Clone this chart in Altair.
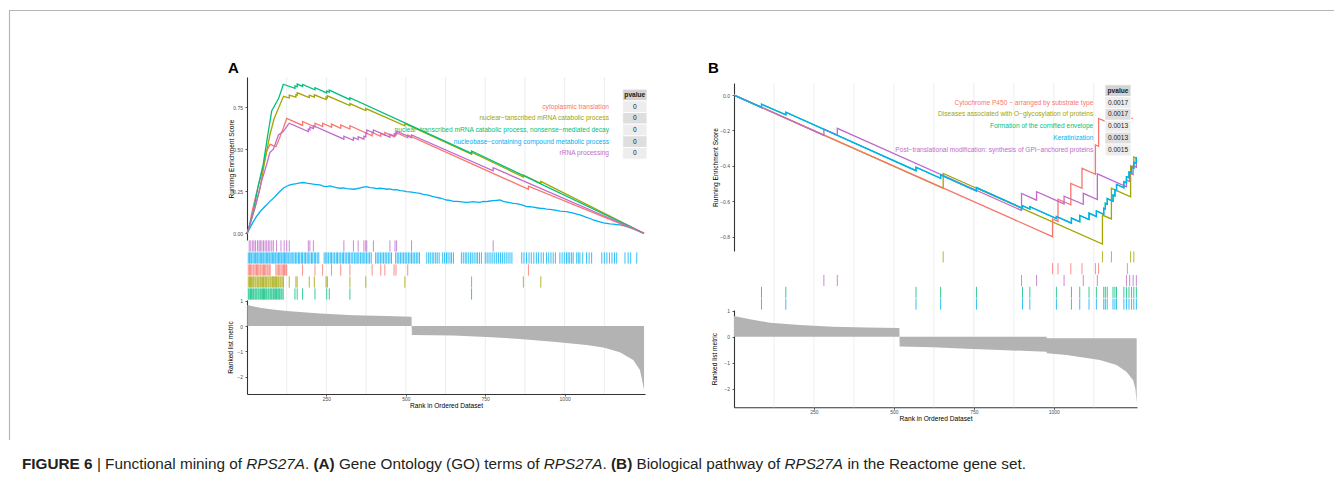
import altair as alt
import pandas as pd

FONT = "Liberation Sans"
W, H = 1326, 470

COLORS = ["#F8766D", "#A3A500", "#00BF7D", "#00B0F6", "#C06BCB"]

# ---------------- Panel A (GO terms) ----------------
A_SETS = ["cytoplasmic translation",
          "nuclear−tanscribed mRNA catabolic process",
          "nuclear−transcribed mRNA catabolic process, nonsense−mediated decay",
          "nucleobase−containing compound metabolic process",
          "rRNA processing"]
A_PVALUES = ["0", "0", "0", "0", "0"]

A_ES_CYTO = [(0, 0), (4, 0.01), (15, 0.12), (30, 0.24), (41, 0.32), (55, 0.43), (62, 0.49), (73, 0.53),
             (82, 0.522), (91, 0.515), (99, 0.55), (107, 0.59), (115, 0.63), (125, 0.684), (175, 0.642),
             (175, 0.665), (214, 0.632), (214, 0.655), (238, 0.635), (238, 0.655), (266, 0.631), (266, 0.65),
             (295, 0.625), (295, 0.645), (324, 0.62), (324, 0.64), (394, 0.58), (394, 0.60), (421, 0.577),
             (421, 0.595), (434, 0.584), (434, 0.60), (463, 0.575), (463, 0.59), (469, 0.585), (469, 0.60),
             (506, 0.568), (506, 0.585), (886, 0.262), (886, 0.28), (1250, 0)]
A_ES_NUCL = [(0, 0), (4, 0.02), (9, 0.05), (25, 0.15), (41, 0.267), (56, 0.43), (72, 0.585), (85, 0.68),
             (99, 0.744), (115, 0.815), (133, 0.805), (133, 0.822), (154, 0.81), (154, 0.825), (158, 0.822),
             (158, 0.836), (196, 0.808), (196, 0.822), (212, 0.81), (212, 0.824), (249, 0.796), (249, 0.81),
             (253, 0.806), (253, 0.818), (324, 0.76), (324, 0.772), (374, 0.73), (374, 0.742), (497, 0.64),
             (497, 0.652), (707, 0.47), (707, 0.482), (870, 0.335), (870, 0.347), (925, 0.297), (925, 0.309),
             (1250, 0)]
A_ES_NMD = [(0, 0), (4, 0.02), (20, 0.13), (35, 0.28), (51, 0.41), (65, 0.58), (78, 0.73), (99, 0.80),
            (110, 0.86), (114, 0.887), (151, 0.862), (151, 0.877), (158, 0.872), (158, 0.888), (175, 0.874),
            (175, 0.886), (214, 0.854), (214, 0.866), (251, 0.835), (251, 0.847), (259, 0.84), (259, 0.852),
            (324, 0.795), (324, 0.807), (707, 0.475), (707, 0.49), (1250, 0)]
A_ES_NUCLEOBASE = [(0, 0), (4, 0.012), (10, 0.035), (20, 0.069), (30, 0.10), (41, 0.128), (51, 0.149),
                   (62, 0.17), (72, 0.19), (83, 0.208), (93, 0.228), (104, 0.25), (114, 0.268), (125, 0.28),
                   (135, 0.288), (146, 0.292), (156, 0.295), (167, 0.30), (177, 0.302), (188, 0.298),
                   (198, 0.296), (209, 0.292), (219, 0.29), (230, 0.288), (240, 0.281), (251, 0.278),
                   (261, 0.282), (272, 0.276), (282, 0.272), (293, 0.268), (303, 0.27), (314, 0.266),
                   (324, 0.264), (335, 0.262), (345, 0.265), (356, 0.27), (366, 0.275), (377, 0.278),
                   (387, 0.272), (398, 0.27), (408, 0.266), (419, 0.268), (429, 0.266), (440, 0.262),
                   (450, 0.264), (461, 0.258), (471, 0.26), (482, 0.254), (492, 0.252), (502, 0.248),
                   (513, 0.246), (523, 0.244), (534, 0.24), (545, 0.238), (555, 0.232), (566, 0.228),
                   (576, 0.224), (586, 0.218), (597, 0.214), (607, 0.21), (618, 0.204), (628, 0.198),
                   (639, 0.196), (649, 0.19), (660, 0.19), (670, 0.188), (681, 0.186), (691, 0.184),
                   (702, 0.186), (712, 0.188), (723, 0.186), (733, 0.184), (744, 0.19), (754, 0.188),
                   (765, 0.192), (775, 0.194), (786, 0.196), (796, 0.198), (807, 0.19), (817, 0.186),
                   (828, 0.182), (838, 0.178), (849, 0.176), (859, 0.172), (870, 0.166), (880, 0.159),
                   (891, 0.158), (901, 0.156), (912, 0.152), (922, 0.149), (933, 0.148), (943, 0.144),
                   (954, 0.142), (964, 0.139), (975, 0.136), (985, 0.132), (996, 0.13), (1006, 0.129),
                   (1017, 0.124), (1027, 0.12), (1038, 0.114), (1048, 0.109), (1059, 0.102), (1069, 0.095),
                   (1080, 0.088), (1090, 0.079), (1101, 0.074), (1111, 0.068), (1122, 0.062), (1132, 0.059),
                   (1143, 0.056), (1153, 0.054), (1164, 0.052), (1174, 0.05), (1185, 0.045), (1195, 0.04),
                   (1206, 0.034), (1216, 0.028), (1226, 0.02), (1237, 0.01), (1247, 0)]
A_ES_RRNA = [(0, 0), (9, 0.05), (30, 0.19), (46, 0.31), (62, 0.41), (72, 0.48), (83, 0.50), (99, 0.585),
             (114, 0.605), (125, 0.635), (133, 0.655), (193, 0.605), (193, 0.62), (198, 0.616), (198, 0.632),
             (209, 0.623), (209, 0.64), (305, 0.56), (305, 0.578), (335, 0.553), (335, 0.57), (350, 0.558),
             (350, 0.575), (368, 0.56), (368, 0.578), (374, 0.573), (374, 0.595), (377, 0.593), (377, 0.615),
             (398, 0.598), (398, 0.615), (450, 0.572), (450, 0.59), (466, 0.577), (466, 0.594), (471, 0.59),
             (471, 0.607), (518, 0.568), (518, 0.585), (775, 0.372), (775, 0.39), (1250, 0)]

A_HITS_CYTO = [4, 8, 11, 15, 19, 22, 26, 30, 33, 37, 41, 44, 48, 52, 55, 59, 63, 66, 70, 73,
               91, 95, 99, 103, 107, 111, 115, 118, 122, 125,
               175, 214, 238, 266, 295, 324, 394, 421, 434, 463, 469, 506, 886]
A_HITS_NUCL = [4, 8, 11, 14, 18, 21, 25, 28, 32, 35, 38, 42, 45, 49, 52, 56, 59, 62, 66, 69, 73, 76, 80,
               83, 86, 90, 93, 97, 100, 104, 107, 111, 115,
               133, 154, 158, 196, 212, 249, 253, 324, 374, 497, 707, 870, 925]
A_HITS_NMD = [4, 7, 11, 14, 18, 21, 25, 28, 31, 35, 38, 42, 45, 49, 52, 55, 59, 62, 66, 69, 73, 76, 79,
              83, 86, 90, 93, 97, 100, 103, 107, 110, 114,
              151, 158, 175, 214, 251, 259, 324, 707]
A_HITS_NUCLEOBASE = [4, 8, 12, 15, 19, 23, 27, 31, 34, 38, 42, 46, 50, 53, 57, 61, 65, 69, 72, 76, 80, 84,
                     88, 91, 95, 99, 103, 107, 110, 114, 118, 122, 126, 130, 135, 139, 144, 148, 153, 157,
                     162, 166, 171, 175, 180, 184, 189, 193, 198, 203, 207, 212, 216, 221, 226, 243, 248,
                     252, 257, 262, 266, 271, 276, 281, 285, 290, 295, 300, 304, 309, 314, 319, 323, 328,
                     333, 338, 343, 347, 352, 357, 362, 366, 371, 376, 381, 386, 391, 405, 410, 415, 420,
                     425, 430, 435, 440, 445, 450, 455, 468, 473, 478, 483, 488, 493, 498, 503, 508, 513,
                     518, 523, 528, 533, 538, 543,
                     566, 572, 577, 583, 588, 594, 599, 605, 616, 622, 628, 633, 639, 644, 650, 675, 681,
                     687, 692, 698, 704, 709, 715, 721, 726, 732, 738, 750, 756, 762, 768, 774, 780, 786,
                     792, 798, 804, 810, 816, 822, 828, 834,
                     865, 872, 880, 888, 895, 903, 911, 918, 926, 933, 943, 950, 957, 964, 971, 985, 992,
                     999, 1006, 1011, 1016, 1022, 1027, 1038, 1043, 1048, 1057, 1069, 1077, 1085, 1117,
                     1125, 1133, 1141, 1149, 1157, 1164, 1190, 1200, 1208, 1227]
A_HITS_RRNA = [7, 12, 18, 22, 27, 33, 38, 42, 47, 52, 57, 62, 67, 72, 78, 83, 93, 107, 117, 125, 133,
               193, 198, 209, 305, 335, 350, 368, 374, 377, 398, 450, 466, 471, 518, 775]

A_RANK_X = [1, 41, 80, 125, 230, 335, 440, 518, 519, 649, 754, 859, 964, 1069, 1122, 1174, 1216, 1237,
            1245, 1250]
A_RANK_V = [0.83, 0.72, 0.65, 0.59, 0.49, 0.43, 0.40, 0.37, -0.36, -0.38, -0.43, -0.51, -0.62, -0.75,
            -0.85, -1.04, -1.34, -1.74, -2.2, -2.53]
A_RANK_BASE = [0] * 20

# ---------------- Panel B (Reactome) ----------------
B_SETS = ["Cytochrome P450 − arranged by substrate type",
          "Diseases associated with O−glycosylation of proteins",
          "Formation of the cornified envelope",
          "Keratinization",
          "Post−translational modification: synthesis of GPI−anchored proteins"]
B_PVALUES = ["0.0017", "0.0017", "0.0013", "0.0013", "0.0015"]

B_ES_CYP = [(0, 0), (996, -0.80), (996, -0.70), (1013, -0.714), (1013, -0.588), (1053, -0.62),
            (1053, -0.499), (1088, -0.527), (1088, -0.414), (1130, -0.448), (1130, -0.282), (1140, -0.29),
            (1140, -0.132), (1147, -0.138), (1230, -0.205), (1230, -0.12), (1247, -0.134)]
B_ES_OGLY = [(0, 0), (654, -0.527), (654, -0.443), (1152, -0.842), (1152, -0.678), (1180, -0.70),
             (1180, -0.527), (1240, -0.575), (1240, -0.40), (1250, -0.408), (1250, -0.35), (1258, -0.356)]
B_ES_KERAT = [(0, 0), (86, -0.070), (86, -0.052), (162, -0.112), (162, -0.097), (569, -0.427),
              (569, -0.408), (646, -0.470), (646, -0.451), (758, -0.542), (758, -0.523), (902, -0.640),
              (902, -0.625), (925, -0.644), (925, -0.631), (1008, -0.698), (1008, -0.686), (1055, -0.724),
              (1055, -0.695), (1081, -0.716), (1081, -0.680), (1110, -0.703), (1110, -0.667), (1133, -0.686),
              (1133, -0.655), (1156, -0.674), (1156, -0.640), (1161, -0.644), (1161, -0.612), (1167, -0.617),
              (1167, -0.585), (1185, -0.600), (1185, -0.565), (1191, -0.570), (1191, -0.535), (1196, -0.539),
              (1196, -0.505), (1219, -0.524), (1219, -0.490), (1227, -0.496), (1227, -0.462), (1235, -0.468),
              (1235, -0.435), (1243, -0.441), (1243, -0.408), (1250, -0.414), (1250, -0.380), (1258, -0.386),
              (1258, -0.350)]
B_ES_CORN = list(B_ES_KERAT)
B_ES_GPI = [(0, 0), (281, -0.228), (281, -0.192), (323, -0.226), (323, -0.188), (899, -0.652),
            (899, -0.556), (946, -0.594), (946, -0.546), (1032, -0.615), (1032, -0.571), (1092, -0.617),
            (1092, -0.555), (1136, -0.59), (1136, -0.445), (1227, -0.518), (1227, -0.48), (1237, -0.488),
            (1237, -0.44), (1248, -0.449), (1248, -0.40), (1258, -0.408), (1258, -0.35)]

B_HITS_CYP = [996, 1013, 1053, 1088, 1130, 1140, 1230]
B_HITS_OGLY = [654, 1152, 1180, 1240, 1250]
B_HITS_CORN = [86, 162, 569, 646, 758, 902, 925, 1008, 1055, 1081, 1110, 1133, 1156, 1161, 1167, 1185,
               1191, 1196, 1219, 1227, 1235, 1243, 1250, 1258]
B_HITS_KERAT = list(B_HITS_CORN)
B_HITS_GPI = [281, 323, 899, 946, 1032, 1092, 1136, 1227, 1237, 1248, 1258]

B_RANK_X = [0, 50, 112, 206, 310, 415, 517, 518, 623, 727, 831, 977, 978, 1040, 1144, 1196, 1227, 1248,
            1255, 1259]
B_RANK_V = [0.80, 0.67, 0.54, 0.45, 0.385, 0.35, 0.33, -0.38, -0.41, -0.46, -0.51, -0.58, -0.64, -0.70,
            -0.90, -1.09, -1.35, -1.67, -2.0, -2.56]
B_RANK_BASE = [0] * 12 + [-0.06] * 8

GRID_VALUES = [125, 250, 375, 500, 625, 750, 875, 1000, 1125]
X_TICKS = [250, 500, 750, 1000]

# ---------------- layout (pixels inside the chart) ----------------
GEOM_A = dict(xdom=[0, 1253], xr=[239, 637], esdom=[-0.04, 0.93], esr=[232, 69],
              esticks=[0, 0.25, 0.5, 0.75], esfmt=".2f", hitr=[232, 292],
              rkdom=[-2.688, 1.028], rkr=[386, 292], gy=[69, 386], xoff=386 - H,
              labx=601, cell=[614.7, 639], cellx=626.8, rowr=[81.2, 151.1],
              estp=-1.5, rktp=3.3)
GEOM_B = dict(xdom=[0, 1260], xr=[726, 1129], esdom=[-0.881, 0.068], esr=[243, 75],
              esticks=[0, -0.2, -0.4, -0.6, -0.8], esfmt=".1f", hitr=[243, 302],
              rkdom=[-2.715, 1.027], rkr=[399.3, 302], gy=[75, 399.3], xoff=399.3 - H,
              labx=1085.3, cell=[1097, 1123], cellx=1110, rowr=[76.8, 147.9],
              estp=1.1, rktp=6.3)


def panel(g, sets, pvalues, es_lists, draw_order, hit_lists, hit_rows, rk_x, rk_v, rk_base):
    xs = alt.Scale(domain=g["xdom"], range=g["xr"], nice=False, zero=False)
    cscale = alt.Scale(domain=sets, range=COLORS)
    rows = alt.Scale(domain=[-1.5, 4.5], range=g["rowr"], nice=False, zero=False)
    layers = []
    layers.append(
        alt.Chart(pd.DataFrame({"g": GRID_VALUES})).mark_rule(color="#EBEBEB", strokeWidth=0.9).encode(
            x=alt.X("g:Q", scale=xs, axis=None), y=alt.value(g["gy"][0]), y2=alt.value(g["gy"][1])))
    lab = pd.DataFrame({"label": sets, "row": list(range(len(sets)))})
    layers.append(
        alt.Chart(lab).mark_text(align="right", baseline="middle", font=FONT, fontSize=6.6).encode(
            x=alt.value(g["labx"]), y=alt.Y("row:Q", scale=rows, axis=None), text="label:N",
            color=alt.Color("label:N", scale=cscale, legend=None)))
    recs = []
    for k in draw_order:
        for i, (r, e) in enumerate(es_lists[k]):
            recs.append({"set": sets[k], "rank": r, "es": e, "i": i})
    layers.append(
        alt.Chart(pd.DataFrame(recs)).mark_line(strokeWidth=1.3).encode(
            x=alt.X("rank:Q", scale=xs, axis=None),
            y=alt.Y("es:Q", scale=alt.Scale(domain=g["esdom"], range=g["esr"], nice=False, zero=False),
                    axis=alt.Axis(orient="left", offset=-g["xr"][0], values=g["esticks"],
                                  format=g["esfmt"], title="Running Enrichment Score",
                                  titlePadding=g["estp"], labelPadding=2.5)),
            color=alt.Color("set:N", scale=cscale, legend=None),
            detail="set:N", order="i:Q"))
    hrecs = []
    for k in range(len(sets)):
        for r in hit_lists[k]:
            hrecs.append({"set": sets[k], "rank": r, "row": hit_rows[k]})
    layers.append(
        alt.Chart(pd.DataFrame(hrecs)).transform_calculate(
            lo="datum.row + 0.03", hi="datum.row + 0.97").mark_rule(strokeWidth=1, opacity=0.8).encode(
            x=alt.X("rank:Q", scale=xs, axis=None),
            y=alt.Y("lo:Q", scale=alt.Scale(domain=[0, 5], range=g["hitr"], nice=False, zero=False), axis=None),
            y2="hi:Q",
            color=alt.Color("set:N", scale=cscale, legend=None)))
    rk = pd.DataFrame({"rank": rk_x, "v": rk_v, "base": rk_base})
    layers.append(
        alt.Chart(rk).mark_area(color="#B3B3B3").encode(
            x=alt.X("rank:Q", scale=xs,
                    axis=alt.Axis(orient="bottom", offset=g["xoff"], values=X_TICKS, format="d",
                                  title="Rank in Ordered Dataset", titlePadding=1, labelPadding=0.5)),
            y=alt.Y("v:Q", scale=alt.Scale(domain=g["rkdom"], range=g["rkr"], nice=False, zero=False),
                    axis=alt.Axis(orient="left", offset=-g["xr"][0], values=[1, 0, -1, -2], format="d",
                                  title="Ranked list metric", titlePadding=g["rktp"], labelPadding=2.5)),
            y2="base:Q"))
    tab = pd.DataFrame({"row": [-1, 0, 1, 2, 3, 4], "txt": ["pvalue"] + pvalues})
    layers.append(
        alt.Chart(tab).transform_calculate(
            r0="datum.row - 0.5", r1="datum.row + 0.5",
            kind="datum.row < 0 ? 'h' : (datum.row % 2 == 0 ? 'a' : 'b')"
        ).mark_rect(stroke="white", strokeWidth=0.8).encode(
            x=alt.value(g["cell"][0]), x2=alt.value(g["cell"][1]),
            y=alt.Y("r0:Q", scale=rows, axis=None), y2="r1:Q",
            fill=alt.Fill("kind:N", scale=alt.Scale(domain=["h", "a", "b"],
                                                    range=["#D3D3D3", "#EDEDED", "#DEDEDE"]), legend=None)))
    layers.append(
        alt.Chart(tab).transform_filter("datum.row >= 0").mark_text(
            font=FONT, fontSize=6.6, color="#1A1A1A", baseline="middle", align="center").encode(
            x=alt.value(g["cellx"]), y=alt.Y("row:Q", scale=rows, axis=None), text="txt:N"))
    layers.append(
        alt.Chart(tab).transform_filter("datum.row < 0").mark_text(
            font=FONT, fontSize=6.6, fontWeight="bold", color="#1A1A1A", baseline="middle",
            align="center").encode(
            x=alt.value(g["cellx"]), y=alt.Y("row:Q", scale=rows, axis=None), text="txt:N"))
    return layers


layers = []
layers += panel(GEOM_A, A_SETS, A_PVALUES,
                [A_ES_CYTO, A_ES_NUCL, A_ES_NMD, A_ES_NUCLEOBASE, A_ES_RRNA], [3, 0, 1, 2, 4],
                [A_HITS_CYTO, A_HITS_NUCL, A_HITS_NMD, A_HITS_NUCLEOBASE, A_HITS_RRNA], [2, 3, 4, 1, 0],
                A_RANK_X, A_RANK_V, A_RANK_BASE)
layers += panel(GEOM_B, B_SETS, B_PVALUES,
                [B_ES_CYP, B_ES_OGLY, B_ES_CORN, B_ES_KERAT, B_ES_GPI], [2, 1, 0, 4, 3],
                [B_HITS_CYP, B_HITS_OGLY, B_HITS_CORN, B_HITS_KERAT, B_HITS_GPI], [1, 0, 3, 4, 2],
                B_RANK_X, B_RANK_V, B_RANK_BASE)

one = pd.DataFrame({"a": [0]})

# panel letters
for letter, lx in [("A", 220), ("B", 700)]:
    layers.append(alt.Chart(one).mark_text(text=letter, font=FONT, fontSize=15, fontWeight="bold",
                                           color="#000000", align="left", baseline="alphabetic").encode(
        x=alt.value(lx), y=alt.value(65)))

# figure frame
layers.append(alt.Chart(one).mark_rule(color="#B5B5B5", strokeWidth=1.2).encode(
    x=alt.value(1), x2=alt.value(W), y=alt.value(2.5)))
layers.append(alt.Chart(one).mark_rule(color="#B5B5B5", strokeWidth=1.2).encode(
    x=alt.value(1.5), y=alt.value(2.5), y2=alt.value(432)))

# caption
CAPTION = [("FIGURE 6", 14, "bold", "normal"),
           ("| Functional mining of", 88.9, "normal", "normal"),
           ("RPS27A", 238.2, "normal", "italic"),
           (".", 296.9, "normal", "normal"),
           ("(A)", 305.4, "bold", "normal"),
           ("Gene Ontology (GO) terms of", 330.9, "normal", "normal"),
           ("RPS27A", 535.8, "normal", "italic"),
           (".", 594.5, "normal", "normal"),
           ("(B)", 603, "bold", "normal"),
           ("Biological pathway of", 628.5, "normal", "normal"),
           ("RPS27A", 776.4, "normal", "italic"),
           ("in the Reactome gene set.", 839.4, "normal", "normal")]
for txt, cx, fw, fs in CAPTION:
    layers.append(alt.Chart(one).mark_text(text=txt, font=FONT, fontSize=15.3, fontWeight=fw, fontStyle=fs,
                                           color="#231F20", align="left", baseline="alphabetic").encode(
        x=alt.value(cx), y=alt.value(460.5)))

chart = alt.layer(*layers).resolve_scale(
    x="independent", y="independent", color="independent", fill="independent"
).properties(
    width=W, height=H, autosize=alt.AutoSizeParams(type="none"), padding=0
).configure_view(
    stroke="transparent"
).configure_axis(
    labelFont=FONT, titleFont=FONT, labelFontSize=5, titleFontSize=6.6, titleFontWeight="normal",
    labelColor="#4D4D4D", titleColor="#000000", tickColor="#333333", domainColor="#333333",
    domainWidth=1.1, tickWidth=0.8, tickSize=2, grid=False
)

chart.save("out.html", embed_options={"renderer": "svg", "actions": False})
